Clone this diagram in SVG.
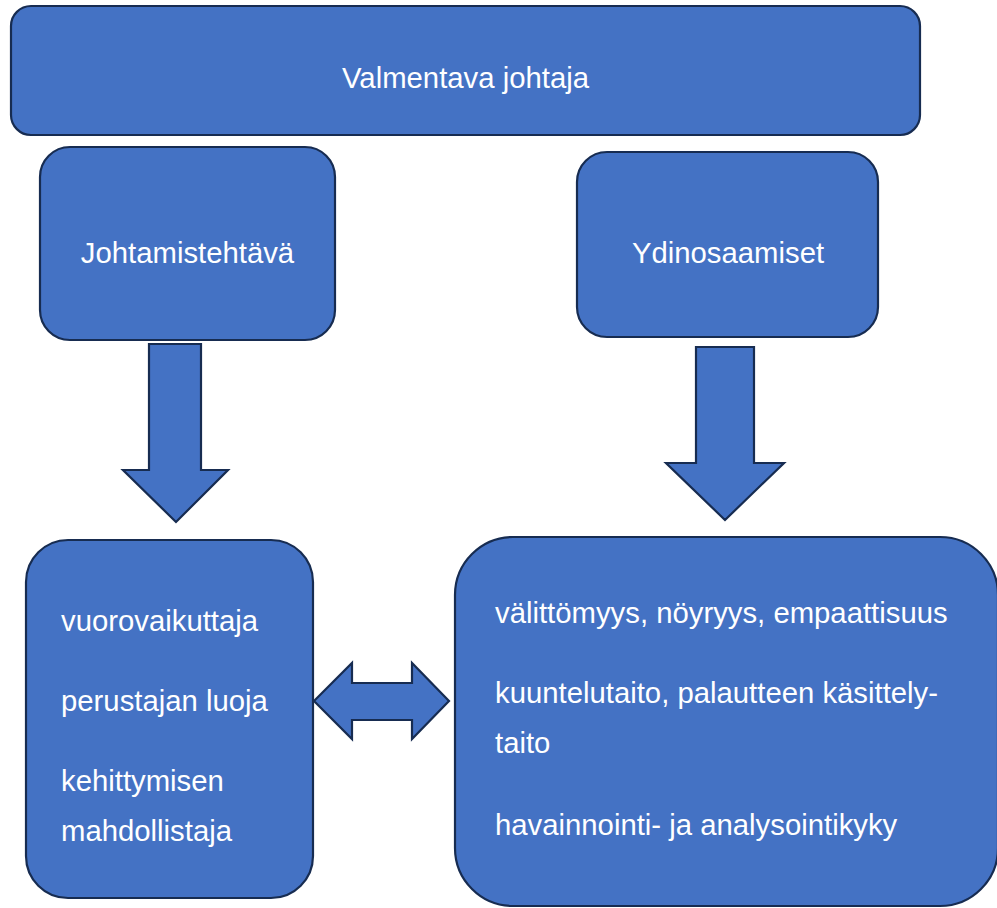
<svg xmlns="http://www.w3.org/2000/svg" width="997" height="908" viewBox="0 0 997 908">
  <style>
    .box { fill: #4472C4; stroke: #172C51; stroke-width: 2.2; }
    .arrow { fill: #4472C4; stroke: #172C51; stroke-width: 2.2; stroke-linejoin: miter; }
    .lbl { fill: #FFFFFF; font-family: "Liberation Sans", Arial, sans-serif; font-size: 29.3px; }
    .mid { text-anchor: middle; }
  </style>
  <rect width="997" height="908" fill="#FFFFFF"/>

  <g id="valmentava-johtaja">
    <rect class="box" x="11" y="6" width="909" height="129" rx="20" ry="20"/>
    <text class="lbl mid" x="465.5" y="88">Valmentava johtaja</text>
  </g>

  <g id="johtamistehtava">
    <rect class="box" x="40" y="147" width="295" height="193" rx="30" ry="30"/>
    <text class="lbl mid" x="187.5" y="263">Johtamistehtävä</text>
  </g>

  <g id="ydinosaamiset">
    <rect class="box" x="577" y="152" width="301" height="185" rx="30" ry="30"/>
    <text class="lbl mid" x="728" y="263">Ydinosaamiset</text>
  </g>

  <g id="roolit">
    <rect class="box" x="26" y="540" width="287" height="358" rx="42" ry="42"/>
    <text class="lbl" x="61" y="631">vuorovaikuttaja</text>
    <text class="lbl" x="61" y="711">perustajan luoja</text>
    <text class="lbl" x="61" y="791">kehittymisen</text>
    <text class="lbl" x="61" y="841">mahdollistaja</text>
  </g>

  <g id="taidot">
    <rect class="box" x="455" y="537" width="543" height="369" rx="58" ry="58"/>
    <text class="lbl" x="495" y="623">välittömyys, nöyryys, empaattisuus</text>
    <text class="lbl" x="495" y="703">kuuntelutaito, palautteen käsittely-</text>
    <text class="lbl" x="495" y="753">taito</text>
    <text class="lbl" x="495" y="835">havainnointi- ja analysointikyky</text>
  </g>

  <g id="connectors">
    <!-- down arrow: Johtamistehtävä to roles -->
    <polygon class="arrow" points="149,344 201,344 201,470 228,470 176,522 123,470 149,470"/>
    <!-- down arrow: Ydinosaamiset to skills -->
    <polygon class="arrow" points="696,347 754,347 754,463 784,463 725,520 666,463 696,463"/>
    <!-- two-way arrow between roles and skills -->
    <polygon class="arrow" points="314,701 352,663 352,683 412,683 412,663 449,701 412,739 412,720 352,720 352,739"/>
  </g>
</svg>
